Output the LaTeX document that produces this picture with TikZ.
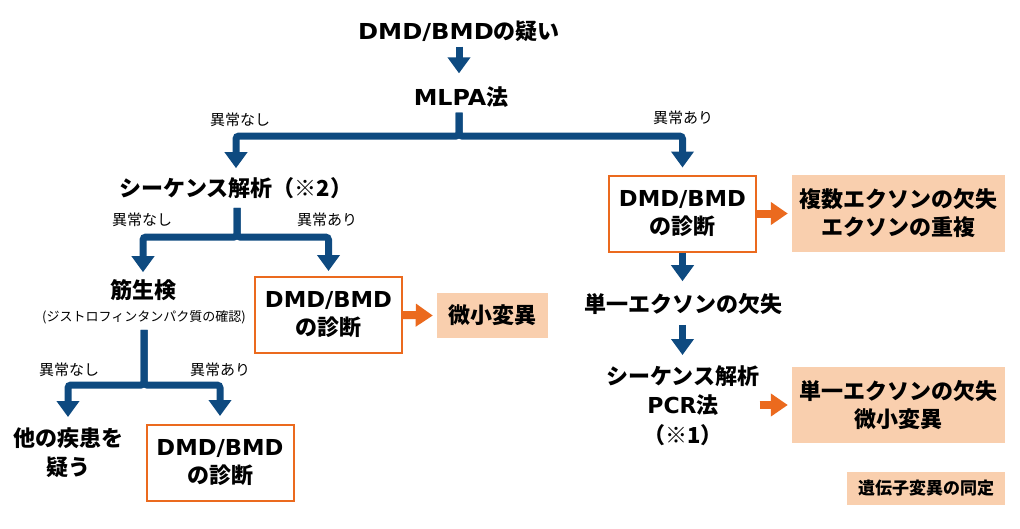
\documentclass[tikz,border=0pt]{standalone}
\usepackage{fontspec}
\usepackage{graphicx}
\setmainfont{Noto Sans CJK JP}
\newfontfamily\latfont{DejaVu Sans}
\usetikzlibrary{arrows.meta}
\definecolor{navy}{HTML}{0E4A80}
\definecolor{orng}{HTML}{EB6A1E}
\definecolor{peach}{HTML}{F9CFAE}
\newcommand\lat[2]{\scalebox{#1}[1]{\latfont #2}}
\tikzset{
  flow/.style={font=\bfseries\fontsize{22}{29.5}\selectfont, align=center, inner sep=0pt},
  lbl/.style={font=\fontsize{15}{18}\selectfont, inner sep=0pt},
  subtxt/.style={font=\fontsize{13}{16}\selectfont, inner sep=0pt},
  diag/.style={draw=orng, line width=2pt, fill=white, minimum width=147pt, minimum height=76pt,
    align=center, inner sep=0pt, font=\bfseries\fontsize{22}{28}\selectfont},
  res/.style={fill=peach, align=center, inner sep=0pt, font=\bfseries\fontsize{22}{28}\selectfont},
  barrow/.style={draw=navy, line width=7pt, rounded corners=3pt, -{Triangle[width=22pt,length=16pt]}},
  oarrow/.style={draw=orng, line width=8pt, -{Triangle[width=22pt,length=17pt]}}
}
\begin{document}
\begin{tikzpicture}[x=1pt,y=-1pt]
\useasboundingbox (0,0) rectangle (1020,528);
% top
\node[flow] (q) at (459,31) {\lat{1.1}{DMD/BMD}の疑い};
\node[flow] (mlpa) at (461,97) {\lat{1.08}{MLPA}法};
\coordinate (j1) at (459,136);
\node[lbl] (l1) at (240,120) {異常なし};
\node[lbl] (l2) at (683,118) {異常あり};
% left branch
\node[flow] (seq) at (236,188) {シーケンス解析（※2）};
\coordinate (j2) at (237,237);
\node[lbl] (l3) at (142,220) {異常なし};
\node[lbl] (l4) at (327,220) {異常あり};
\node[flow] (kin) at (143,290) {筋生検};
\node[subtxt] (kinsub) at (144,317) {(ジストロフィンタンパク質の確認)};
\coordinate (j3) at (144,385);
\node[lbl] (l5) at (69,370) {異常なし};
\node[lbl] (l6) at (220,370) {異常あり};
\node[flow, anchor=north] (other) at (68,427) {他の疾患を\\疑う};
\node[diag] (d3) at (220,463) {\lat{1.03}{DMD/BMD}\\の診断};
\node[diag] (d2) at (328.5,315) {\lat{1.03}{DMD/BMD}\\の診断};
\node[res, minimum width=111pt, minimum height=45pt] (m2) at (492.5,315.5) {微小変異};
% right branch
\node[diag] (d1) at (682.5,213.5) {\lat{1.03}{DMD/BMD}\\の診断};
\node[res, minimum width=213pt, minimum height=77pt] (r1) at (898.5,213.5) {複数エクソンの欠失\\エクソンの重複};
\node[flow] (single) at (683,304) {単一エクソンの欠失};
\node[flow, anchor=north] (seq2) at (683,365) {シーケンス解析\\\lat{1}{PCR}法\\（※1）};
\node[res, minimum width=213pt, minimum height=76pt] (r2) at (898.5,405) {単一エクソンの欠失\\微小変異};
\node[res, minimum width=158pt, minimum height=33pt, font=\bfseries\fontsize{17}{20}\selectfont] (leg) at (926,488.5) {遺伝子変異の同定};
% blue connectors
\draw[barrow] ([yshift=-5pt]q.south) -- ([yshift=13pt]mlpa.north -| q.south);
\draw[barrow] ([yshift=-5pt]mlpa.south -| j1) -- (j1) -| ([yshift=9pt]seq.north);
\draw[barrow] ([yshift=-5pt]mlpa.south -| j1) -- (j1) -| ([yshift=7pt]d1.north);
\draw[barrow] ([yshift=-9pt]seq.south -| j2) -- (j2) -| ([yshift=7pt]kin.north);
\draw[barrow] ([yshift=-9pt]seq.south -| j2) -- (j2) -| ([yshift=5pt]d2.north);
\draw[barrow] ([yshift=-6pt]kinsub.south) -- (j3) -| ([yshift=10pt]other.north);
\draw[barrow] ([yshift=-6pt]kinsub.south) -- (j3) -| ([yshift=8pt]d3.north);
\draw[barrow] (d1.south) -- ([yshift=12pt]single.north -| d1.south);
\draw[barrow] ([yshift=-10pt]single.south -| d1.south) -- ([yshift=10pt]seq2.north -| d1.south);
% orange connectors
\draw[oarrow] (d2.east) -- ([xshift=-4pt]m2.west);
\draw[oarrow] (d1.east) -- ([xshift=-4pt]r1.west);
\draw[oarrow] (r2.west -| seq2.east) -- ([xshift=-4pt]r2.west);
\end{tikzpicture}
\end{document}
